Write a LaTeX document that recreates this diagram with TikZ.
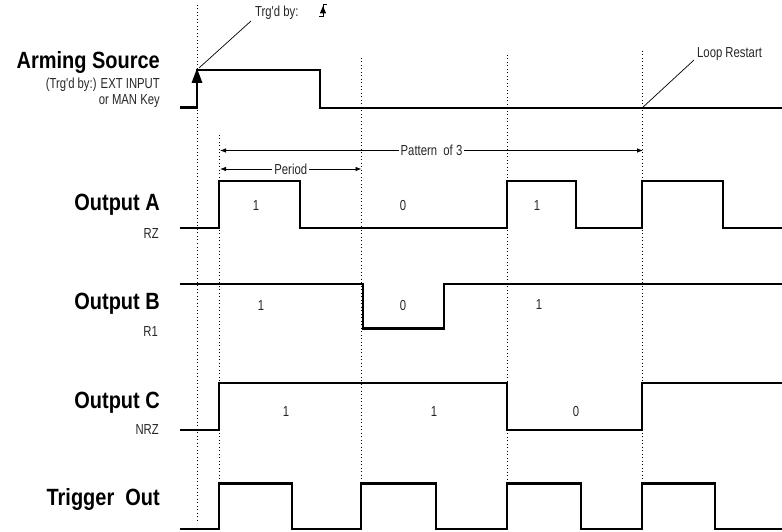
\documentclass[tikz,border=0pt]{standalone}
\usepackage{fontspec}
\setmainfont{Liberation Sans}
\newfontfamily\smallfnt[FakeStretch=0.78]{Liberation Sans}
\newfontfamily\headfnt[FakeStretch=0.85]{Liberation Sans}
\usetikzlibrary{arrows.meta}
\begin{document}
\begin{tikzpicture}[x=1pt,y=-1pt,
  sig/.style={line width=2.2pt, line join=miter},
  dotline/.style={line width=0.8pt, dash pattern=on 0.9pt off 2.6pt},
  dimarr/.style={line width=0.8pt, {Latex[length=6pt,width=4.5pt]}-{Latex[length=6pt,width=4.5pt]}},
  thinline/.style={line width=0.7pt},
  headlbl/.style={anchor=base east, inner sep=0pt, font=\headfnt\bfseries\fontsize{23.5}{25}\selectfont},
  sublbl/.style={anchor=base east, inner sep=0pt, text=black!85, font=\smallfnt\fontsize{14.5}{16}\selectfont},
  txt/.style={inner sep=0pt, text=black!85, font=\smallfnt\fontsize{14.5}{16}\selectfont},
  bit/.style={anchor=base, inner sep=0pt, text=black!85, font=\smallfnt\fontsize{14.5}{16}\selectfont}]
\useasboundingbox (0,0) rectangle (782,532);

% dotted reference lines
\draw[dotline] (197,5) -- (197,521);
\draw[dotline] (219,135) -- (219,529);
\draw[dotline] (361,58) -- (361,483);
\draw[dotline] (507,55) -- (507,529);
\draw[dotline] (642,51) -- (642,483);

% left labels
\node[headlbl] (arm) at (160,69) {Arming Source};
\node[sublbl] (arm1) at (160,89) {(Trg'd by:) EXT INPUT};
\node[sublbl] (arm2) at (160,104.5) {or MAN Key};
\node[headlbl] (oa) at (160,210) {Output A};
\node[sublbl] (oa1) at (159,238) {RZ};
\node[headlbl] (ob) at (160,309) {Output B};
\node[sublbl] (ob1) at (158,336) {R1};
\node[headlbl] (oc) at (160,408) {Output C};
\node[sublbl] (oc1) at (159,434.5) {NRZ};
\node[headlbl] (to) at (160,505) {Trigger\ \ Out};

% Arming source waveform
\draw[sig] (180,107.5) -- (197,107.5) -- (197,70) -- (320,70) -- (320,108) -- (782,108);
\fill (191.5,83) -- (197,68.5) -- (202.5,83) -- cycle;

% Trg'd by annotation
\node[txt, anchor=base west] (trg) at (255,17) {Trg'd by:};
\coordinate (trgpt) at (199,68);
\coordinate (trgend) at (251,21);
\draw[thinline] (trgpt) -- (trgend);
\draw[line width=0.9pt] (319,16.5) -- (323,16.5) -- (323,4) -- (327,4);
\fill (323,6) -- (319.8,13.5) -- (326.2,13.5) -- cycle;

% Loop restart annotation
\node[txt, anchor=base west] (loop) at (697,58) {Loop Restart};
\coordinate (looppt) at (642,108);
\coordinate (loopend) at (694,60);
\draw[thinline] (looppt) -- (loopend);

% dimension arrows
\draw[dimarr] (220,150.5) -- node[txt, fill=white, inner xsep=2pt, inner ysep=1pt] (pat) {Pattern\ \ of 3} (643,150.5);
\draw[dimarr] (220,169) -- node[txt, fill=white, inner xsep=2pt, inner ysep=1pt] (per) {Period} (361.5,169);

% Output A
\draw[sig] (180,228) -- (219,228) -- (219,181) -- (300,181) -- (300,228) -- (507,228) -- (507,181) -- (576,181) -- (576,228) -- (642,228) -- (642,181) -- (723,181) -- (723,228) -- (782,228);
\node[bit] (a1) at (256,211) {1};
\node[bit] (a2) at (403,211) {0};
\node[bit] (a3) at (537,211) {1};

% Output B
\draw[sig] (180,284) -- (363,284) -- (363,328.5) -- (444,328.5) -- (444,284) -- (782,284);
\node[bit] (b1) at (261,310) {1};
\node[bit] (b2) at (403,310) {0};
\node[bit] (b3) at (539,309) {1};

% Output C
\draw[sig] (180,430) -- (219,430) -- (219,383) -- (507,383) -- (507,430) -- (642,430) -- (642,383) -- (782,383);
\node[bit] (c1) at (286,416) {1};
\node[bit] (c2) at (434,416) {1};
\node[bit] (c3) at (576,416) {0};

% Trigger Out
\draw[sig] (180,529) -- (219,529) -- (219,483.5) -- (292,483.5) -- (292,529) -- (361,529) -- (361,483.5) -- (436,483.5) -- (436,529) -- (507,529) -- (507,483.5) -- (581,483.5) -- (581,529) -- (642,529) -- (642,483.5) -- (715,483.5) -- (715,529) -- (782,529);
\end{tikzpicture}
\end{document}
